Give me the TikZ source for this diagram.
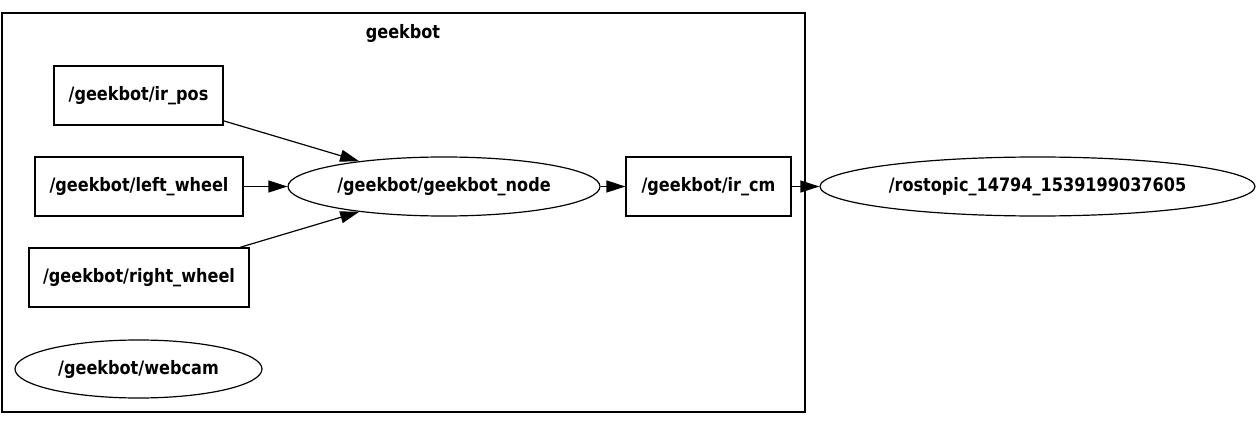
\documentclass[tikz,border=0pt]{standalone}
\usepackage{fontspec}
\setmainfont{DejaVu Sans}[FakeStretch=0.87]
\usepackage{tikz}
\usetikzlibrary{positioning,arrows.meta,shapes.geometric}

\begin{document}
\begin{tikzpicture}[
  x=1pt, y=-1pt,
  >={Triangle[length=19pt,width=12pt]},
  line width=1.2pt,
  every node/.style={font=\fontsize{18.5}{22}\selectfont\bfseries,inner sep=0pt},
  topic/.style={draw,rectangle,minimum height=59pt},
  rosnode/.style={draw,ellipse,minimum height=59pt},
  cluster/.style={draw,rectangle,minimum width=803pt,minimum height=399pt},
  arrow/.style={->}
]
\useasboundingbox (0,0) rectangle (1259,425);
\node[cluster] (geekbot) at (403.5,212.5) {};
\node (title) at (403,33) {geekbot};

\node[topic,minimum width=169pt] (irpos) at (138.5,95.5) {/geekbot/ir\_pos};
\node[topic,minimum width=208pt] (leftwheel) at (139,186.5) {/geekbot/left\_wheel};
\node[topic,minimum width=220pt] (rightwheel) at (139,277.5) {/geekbot/right\_wheel};
\node[rosnode,minimum width=247pt,minimum height=58pt] (webcam) at (138.5,369) {/geekbot/webcam};
\node[rosnode,minimum width=312pt] (gbnode) at (444,186.5) {/geekbot/geekbot\_node};
\node[topic,minimum width=165pt] (ircm) at (708.5,186.5) {/geekbot/ir\_cm};
\node[rosnode,minimum width=435pt] (rostopic) at (1037.5,186.5) {/rostopic\_14794\_1539199037605};

\draw[arrow] (irpos) -- (gbnode);
\draw[arrow] (leftwheel) -- (gbnode);
\draw[arrow] (rightwheel) -- (gbnode);
\draw[arrow] (gbnode) -- (ircm);
\draw[arrow] (ircm) -- (rostopic);
\end{tikzpicture}
\end{document}
